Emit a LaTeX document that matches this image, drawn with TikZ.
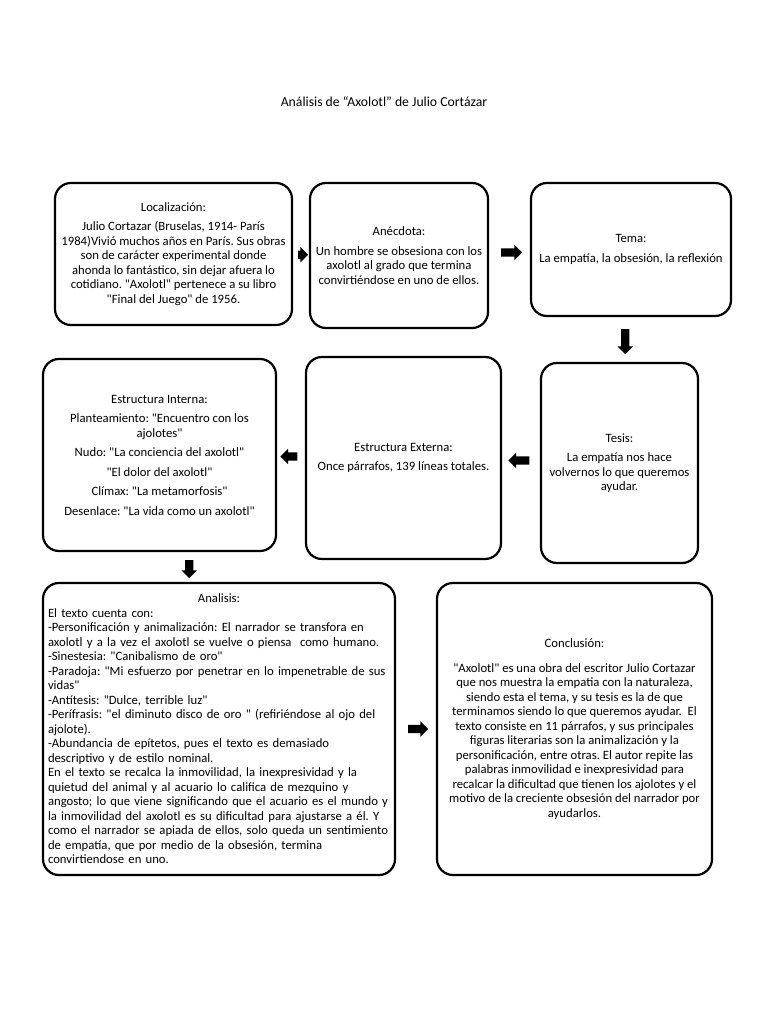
\documentclass[tikz,border=0pt]{standalone}
\usepackage{fontspec}
\setmainfont{Carlito}[Ligatures=TeXOff]
\usetikzlibrary{shapes.arrows,calc}
\frenchspacing
\begin{document}
\begin{tikzpicture}[x=1pt,y=-1pt,
  caja/.style={draw, line width=2.2pt, rounded corners=16pt, align=center, inner sep=2pt,
    font=\fontsize{12.7}{14.5}\selectfont},
  flecha/.style={single arrow, fill=black, draw=none, inner xsep=0pt, inner ysep=4pt, minimum width=15pt,
    single arrow head extend=3.5pt, minimum height=#1}]
\useasboundingbox[fill=white](0,0)rectangle(768,1024);

\node[font=\fontsize{13.7}{16}\selectfont](titulo)at(384,102){Análisis de “Axolotl” de Julio Cortázar};

\node[caja, minimum width=237pt, minimum height=142pt](loc)at(173.5,254){Localización:\\[5pt]
  Julio Cortazar (Bruselas, 1914- París\\1984)Vivió muchos años en París. Sus obras\\
  son de carácter experimental donde\\ahonda lo fantástico, sin dejar afuera lo\\
  cotidiano. "Axolotl" pertenece a su libro\\"Final del Juego" de 1956.};
\node[caja, minimum width=178pt, minimum height=145pt](anec)at(399,255.5){Anécdota:\\[5pt]
  Un hombre se obsesiona con los\\axolotl al grado que termina\\convirtiéndose en uno de ellos.};
\node[caja, minimum width=200pt, minimum height=133pt](tema)at(631,249.5){Tema:\\[5pt]
  La empatía, la obsesión, la reflexión};

\node[caja, minimum width=157pt, minimum height=200pt](tesis)at(619.5,463){Tesis:\\[5pt]
  La empatía nos hace\\volvernos lo que queremos\\ayudar.};
\node[caja, minimum width=195pt, minimum height=202pt](ext)at(403.5,458){Estructura Externa:\\[5pt]
  Once párrafos, 139 líneas totales.};
\node[caja, minimum width=233pt, minimum height=192pt](int)at(159.5,455){Estructura Interna:\\[5pt]
  Planteamiento: "Encuentro con los\\ajolotes"\\[5pt]Nudo: "La conciencia del axolotl"\\[5pt]
  "El dolor del axolotl"\\[5pt]Clímax: "La metamorfosis"\\[5pt]Desenlace: "La vida como un axolotl"};

\node[caja, align=left, inner xsep=5pt, text width=342pt, minimum width=352pt, minimum height=292pt](ana)at(219,729){%
  \makebox[\linewidth][c]{Analisis:}\\
  El texto cuenta con:\\
  -Personificación y animalización: El narrador se transfora en\\
  axolotl y a la vez el axolotl se vuelve o piensa\ \ como humano.\\
  -Sinestesia: "Canibalismo de oro"\\
  -Paradoja: "Mi esfuerzo por penetrar en lo impenetrable de sus\\
  vidas"\\
  -Antítesis: "Dulce, terrible luz"\\
  -Perífrasis: "el diminuto disco de oro " (refiriéndose al ojo del\\
  ajolote).\\
  -Abundancia de epítetos, pues el texto es demasiado\\
  descriptivo y de estilo nominal.\\
  En el texto se recalca la inmovilidad, la inexpresividad y la\\
  quietud del animal y al acuario lo califica de mezquino y\\
  angosto; lo que viene significando que el acuario es el mundo y\\
  la inmovilidad del axolotl es su dificultad para ajustarse a él. Y\\
  como el narrador se apiada de ellos, solo queda un sentimiento\\
  de empatía, que por medio de la obsesión, termina\\
  convirtiendose en uno.};
\node[caja, minimum width=275pt, minimum height=292pt](conc)at(574.5,729){Conclusión:\\[10pt]
  "Axolotl" es una obra del escritor Julio Cortazar\\que nos muestra la empatia con la naturaleza,\\
  siendo esta el tema, y su tesis es la de que\\terminamos siendo lo que queremos ayudar.\ \ El\\
  texto consiste en 11 párrafos, y sus principales\\figuras literarias son la animalización y la\\
  personificación, entre otras. El autor repite las\\palabras inmovilidad e inexpresividad para\\
  recalcar la dificultad que tienen los ajolotes y el\\motivo de la creciente obsesión del narrador por\\
  ayudarlos.};

\foreach \a/\b/\r/\l in {loc.east/anec.west/0/10, anec.east/tema.west/0/21, tema.south/tesis.north/270/25,
  tesis.west/ext.east/180/21, ext.west/int.east/180/17, int.south/ana.north/270/18, ana.east/conc.west/0/20}{
  \node[flecha=\l pt, rotate=\r]()at($(\a)!0.5!(\b)$){};}

\end{tikzpicture}
\end{document}
